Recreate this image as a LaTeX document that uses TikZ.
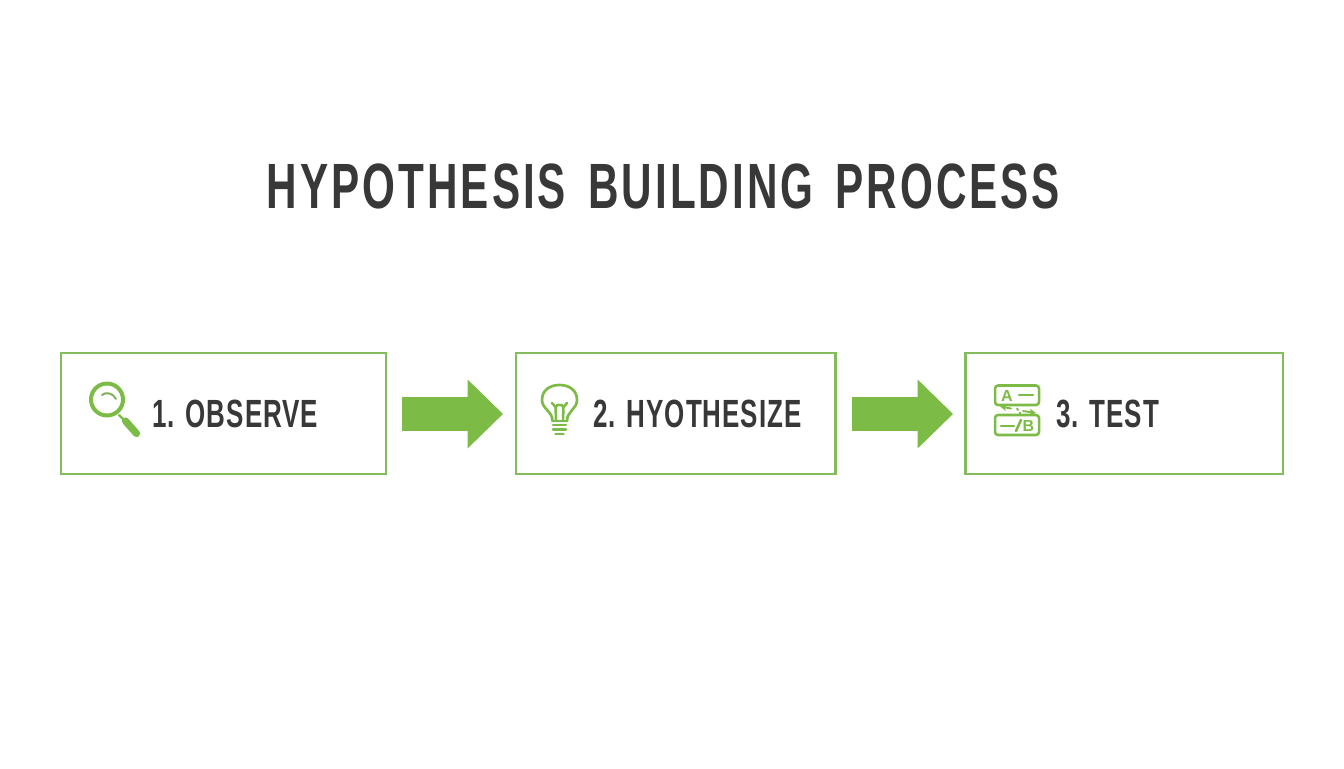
\documentclass[tikz,border=0pt]{standalone}
\usepackage{fontspec}
\setmainfont[FakeStretch=0.66,LetterSpace=2.5]{Liberation Sans}
\newfontfamily\titlefont[FakeStretch=0.66,LetterSpace=4.7,WordSpace=1.5]{Liberation Sans}
\newfontfamily\iconfont{Liberation Sans}
\usetikzlibrary{arrows.meta}
\definecolor{grn}{HTML}{7CBB45}
\definecolor{boxgrn}{HTML}{84BB5C}
\definecolor{ink}{HTML}{383838}
\tikzset{
  x=0.75pt,y=-0.75pt,
  stepbox/.style={draw=boxgrn,line width=1.8pt,fill=white,minimum height=90.75pt,inner sep=0pt,outer sep=0pt,anchor=west},
  steptext/.style={text=ink,font=\bfseries\fontsize{29.5pt}{30pt}\selectfont,anchor=base west,inner sep=0pt},
  flow/.style={draw=grn,line width=25.5pt,-{Triangle[length=26.5pt,width=50pt]}},
  icon/.style={draw=grn,line width=2pt,line cap=round,line join=round},
  iconb/.style={icon,line width=1.9pt},
  icontext/.style={text=grn,inner sep=0pt,font=\iconfont\bfseries\fontsize{12pt}{12pt}\selectfont}
}
\begin{document}
\begin{tikzpicture}
\useasboundingbox (0,0) rectangle (1344,768);
\fill[white] (0,0) rectangle (1344,768);
\node[text=ink,font=\titlefont\bfseries\fontsize{48pt}{50pt}\selectfont,inner sep=0pt,anchor=base] (title) at (663.5,208.5) {HYPOTHESIS BUILDING PROCESS};
\node[stepbox,minimum width=243.75pt] (b1) at (61.2,413.3) {};
\node[stepbox,minimum width=239.5pt] (b2) at (516.2,413.3) {};
\node[stepbox,minimum width=238.1pt] (b3) at (965.3,413.3) {};
\node[steptext] (t1) at (152,427) {1. OBSERVE};
\node[steptext] (t2) at (593,427) {2. HYOTHESIZE};
\node[steptext] (t3) at (1056,427) {3. TEST};
\draw[flow,shorten <=11.85pt,shorten >=9.9pt] ([yshift=-0.5pt]b1.east) -- ([yshift=-0.5pt]b2.west);
\draw[flow,shorten <=12pt,shorten >=9.2pt] ([yshift=-0.5pt]b2.east) -- ([yshift=-0.5pt]b3.west);
% magnifier
\draw[icon,line width=3pt] (107,399.5) circle[radius=16];
\draw[icon,line width=1.6pt] (119,415) -- (125,421);
\draw[icon,line width=5.4pt] (125.5,421) -- (136.5,433.5);
\draw[icon,line width=1.4pt,draw=grn!75!gray] (102,395) .. controls (106,391.5) and (113,393) .. (116,399);
% bulb
\draw[icon] (552.5,421) .. controls (552.5,411) and (542,409) .. (542,400) .. controls (542,390) and (550,385) .. (559.5,385) .. controls (569,385) and (577,390) .. (577,400) .. controls (577,409) and (567,411) .. (567,421);
\draw[icon] (552.5,421) -- (567,421);
\draw[iconb] (553,425) -- (566,425);
\draw[iconb] (553,429.5) -- (566,429.5);
\draw[iconb] (555.5,434) -- (563.5,434);
\draw[icon,line width=1.9pt] (556,420) -- (555.5,407) -- (552,403);
\draw[icon,line width=1.9pt] (563,420) -- (563.5,407) -- (567,403);
\draw[icon,line width=1.9pt] (555.5,407) .. controls (557,404) and (562,404) .. (563.5,407);
% A/B cards
\draw[iconb] (998,385.5) -- (1036,385.5) arc[start angle=-90,end angle=0,radius=3] -- (1039,402) arc[start angle=0,end angle=90,radius=3] -- (998,405) arc[start angle=90,end angle=180,radius=3] -- (995,388.5) arc[start angle=180,end angle=270,radius=3];
\draw[iconb] (998,415) -- (1036,415) arc[start angle=-90,end angle=0,radius=3] -- (1039,432) arc[start angle=0,end angle=90,radius=3] -- (998,435) arc[start angle=90,end angle=180,radius=3] -- (995,418) arc[start angle=180,end angle=270,radius=3];
\node[icontext] (la) at (1007,395.5) {A};
\node[icontext] (lb) at (1028.5,425.5) {B};
\draw[iconb] (1019,395) -- (1033,395);
\draw[iconb] (1001,426) -- (1014,426);
\draw[iconb] (1016,431) -- (1021,420);
\draw[icon,line width=1.4pt,-{Stealth[length=5pt,width=5pt]}] (1011,408.5) -- (1000,406.5);
\draw[icon,line width=1.4pt,-{Stealth[length=5pt,width=5pt]}] (1023,411) -- (1036,413);
\draw[icon,line width=1.4pt] (1017,408.5) -- (1018,410);
\draw[icon,line width=1.4pt] (1019.5,412.5) -- (1020.5,413.5);
\end{tikzpicture}
\end{document}
